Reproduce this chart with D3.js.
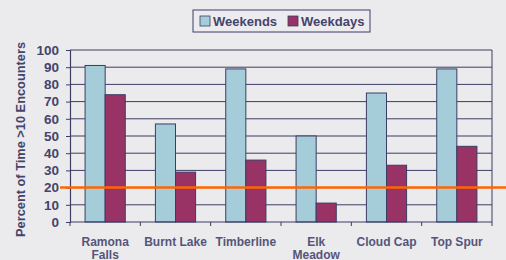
<!DOCTYPE html>
<html>
<head>
<meta charset="utf-8">
<script src="https://cdn.jsdelivr.net/npm/d3@7"></script>
<style>
  body { margin: 0; background: #ebebee; }
  svg { display: block; font-family: Arial, "Liberation Sans", sans-serif; }
</style>
</head>
<body>
<script>
// chart data
const sites = [["Ramona", "Falls"], ["Burnt Lake"], ["Timberline"], ["Elk", "Meadow"], ["Cloud Cap"], ["Top Spur"]];
const weekends = [91, 57, 89, 50, 75, 89];
const weekdays = [74, 29, 36, 11, 33, 44];
const seriesNames = ["Weekends", "Weekdays"];
const yTicks = [0, 10, 20, 30, 40, 50, 60, 70, 80, 90, 100];
const threshold = 20;

const width = 506, height = 260;
const margin = {top: 50, right: 14, bottom: 38, left: 70};
const ink = "#3c3c64";
const colors = ["#a5cdd9", "#993366"];

const svg = d3.select("body").append("svg")
  .attr("width", width)
  .attr("height", height);

const x = d3.scaleBand()
  .domain(d3.range(sites.length))
  .range([margin.left, width - margin.right]);

const xSub = d3.scaleBand()
  .domain([0, 1])
  .range([0, x.bandwidth()])
  .paddingOuter(0.75)
  .paddingInner(0);

const y = d3.scaleLinear()
  .domain([0, 100])
  .range([height - margin.bottom, margin.top]);

// gridlines
svg.append("g")
  .selectAll("line")
  .data(yTicks.filter(d => d > 0))
  .join("line")
  .attr("x1", margin.left)
  .attr("x2", width - margin.right)
  .attr("y1", d => y(d))
  .attr("y2", d => y(d))
  .attr("stroke", ink)
  .attr("stroke-width", 1);

// right border
svg.append("line")
  .attr("x1", width - margin.right).attr("x2", width - margin.right)
  .attr("y1", y(100)).attr("y2", y(0))
  .attr("stroke", ink);

// bars
const groups = svg.append("g")
  .selectAll("g")
  .data(sites.map((s, i) => [weekends[i], weekdays[i]]))
  .join("g")
  .attr("transform", (d, i) => `translate(${x(i)},0)`);

groups.selectAll("rect")
  .data(d => d)
  .join("rect")
  .attr("x", (d, j) => xSub(j))
  .attr("y", d => y(d))
  .attr("width", xSub.bandwidth())
  .attr("height", d => y(0) - y(d))
  .attr("fill", (d, j) => colors[j])
  .attr("stroke", ink)
  .attr("stroke-width", 1);

// y axis
const yAxis = svg.append("g")
  .attr("transform", `translate(${margin.left},0)`)
  .call(d3.axisLeft(y).tickValues(yTicks).tickSize(4).tickPadding(7));
yAxis.select(".domain").attr("stroke", ink).attr("stroke-width", 1.2);
yAxis.selectAll(".tick line").attr("stroke", ink);
yAxis.selectAll("text")
  .attr("fill", "#44446a")
  .attr("font-size", 13.5)
  .attr("font-weight", "bold");

// x axis
svg.append("g")
  .selectAll("line")
  .data(d3.range(sites.length + 1))
  .join("line")
  .attr("x1", i => margin.left + i * x.step())
  .attr("x2", i => margin.left + i * x.step())
  .attr("y1", y(0))
  .attr("y2", y(0) + 4)
  .attr("stroke", ink);
svg.append("line")
  .attr("x1", margin.left).attr("x2", width - margin.right)
  .attr("y1", y(0)).attr("y2", y(0))
  .attr("stroke", ink).attr("stroke-width", 1.2);

svg.append("g")
  .selectAll("text")
  .data(sites)
  .join("text")
  .attr("x", (d, i) => x(i) + x.bandwidth() / 2)
  .attr("y", y(0) + 24)
  .attr("text-anchor", "middle")
  .attr("fill", "#55557a")
  .attr("font-size", 12)
  .attr("font-weight", "bold")
  .selectAll("tspan")
  .data(d => d)
  .join("tspan")
  .attr("x", function() { return this.parentNode.getAttribute("x"); })
  .attr("dy", (d, k) => k === 0 ? 0 : 12.5)
  .text(d => d);

// y title
svg.append("text")
  .attr("transform", "translate(25,139.5) rotate(-90)")
  .attr("text-anchor", "middle")
  .attr("fill", "#44446a")
  .attr("font-size", 12.8)
  .attr("font-weight", "bold")
  .text("Percent of Time >10 Encounters");

// threshold line
svg.append("line")
  .attr("x1", 60).attr("x2", width)
  .attr("y1", y(threshold)).attr("y2", y(threshold))
  .attr("stroke", "#ff6600")
  .attr("stroke-width", 2.5);

// legend
const legend = svg.append("g").attr("transform", "translate(193,10)");
legend.append("rect")
  .attr("width", 177).attr("height", 22)
  .attr("fill", "#ececf0")
  .attr("stroke", ink).attr("stroke-width", 1);
const legX = [7, 95];
const item = legend.selectAll("g.item")
  .data(seriesNames)
  .join("g")
  .attr("class", "item")
  .attr("transform", (d, i) => `translate(${legX[i]},5)`);
item.append("rect")
  .attr("width", 10).attr("height", 10).attr("y", 1)
  .attr("fill", (d, i) => colors[i])
  .attr("stroke", ink).attr("stroke-width", 0.8);
item.append("text")
  .attr("x", 13).attr("y", 11)
  .attr("fill", "#44446a")
  .attr("font-size", 13)
  .attr("font-weight", "bold")
  .text(d => d);
</script>
</body>
</html>
